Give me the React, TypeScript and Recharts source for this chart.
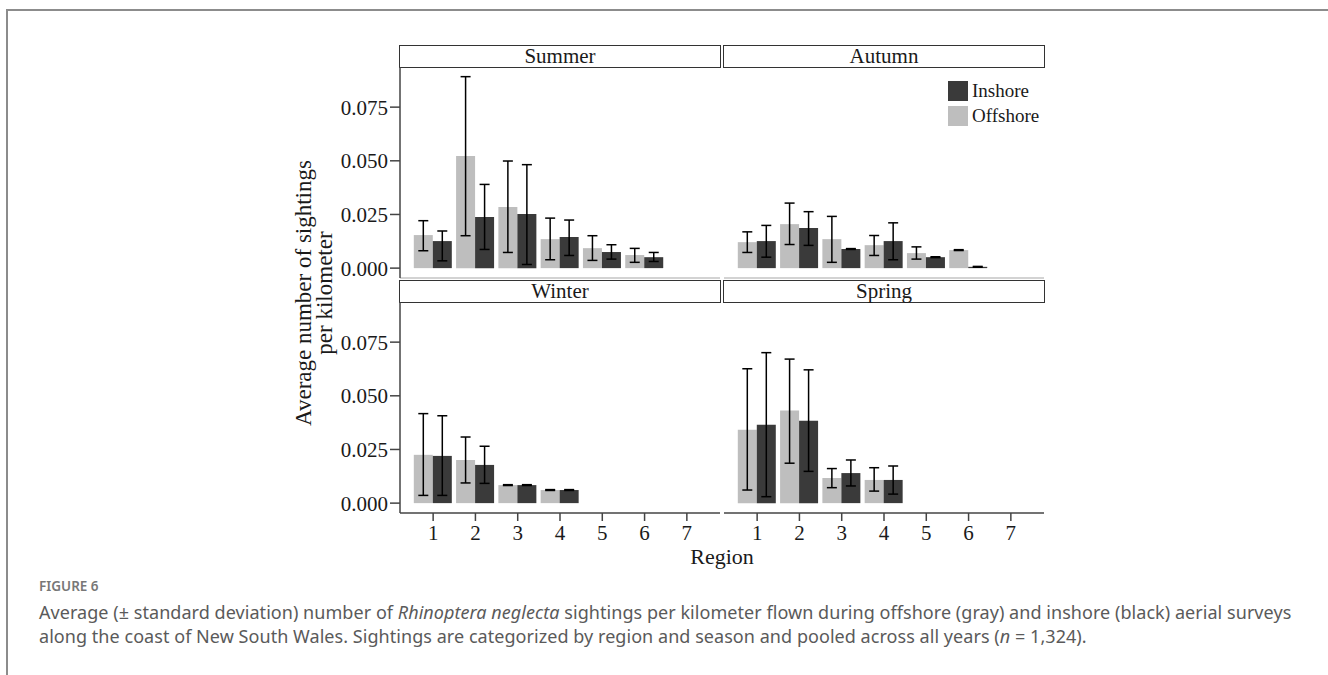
import { BarChart, Bar, XAxis, YAxis, ErrorBar } from 'recharts';

const regions = ['1', '2', '3', '4', '5', '6', '7'];
const yTicks = [0, 0.025, 0.05, 0.075];

// mean, lower and upper end of the error bar (mean ± sd), per region
const summerOff = [0.0154, 0.0522, 0.0285, 0.0135, 0.0093, 0.0061, null];
const summerOffLo = [0.0081, 0.0151, 0.0073, 0.0039, 0.0036, 0.0027, null];
const summerOffHi = [0.0221, 0.0892, 0.0499, 0.0233, 0.0151, 0.0092, null];
const summerIn = [0.0126, 0.0238, 0.0252, 0.0145, 0.0075, 0.0051, null];
const summerInLo = [0.0034, 0.0087, 0.0017, 0.0059, 0.0042, 0.0031, null];
const summerInHi = [0.0173, 0.039, 0.0482, 0.0224, 0.0109, 0.0073, null];

const autumnOff = [0.0121, 0.0205, 0.0135, 0.0107, 0.007, 0.0084, null];
const autumnOffLo = [0.0073, 0.011, 0.0027, 0.0059, 0.0042, 0.0082, null];
const autumnOffHi = [0.0169, 0.0303, 0.0241, 0.0152, 0.0099, 0.0086, null];
const autumnIn = [0.0126, 0.0187, 0.0089, 0.0126, 0.0051, 0.0006, null];
const autumnInLo = [0.0051, 0.0106, 0.0087, 0.0039, 0.0049, 0.0004, null];
const autumnInHi = [0.0199, 0.0263, 0.0091, 0.0211, 0.0053, 0.0008, null];

const winterOff = [0.0225, 0.0201, 0.0084, 0.0061, null, null, null];
const winterOffLo = [0.0036, 0.0094, 0.0082, 0.0059, null, null, null];
const winterOffHi = [0.0417, 0.0308, 0.0086, 0.0063, null, null, null];
const winterIn = [0.022, 0.0178, 0.0084, 0.0061, null, null, null];
const winterInLo = [0.0036, 0.0092, 0.0082, 0.0059, null, null, null];
const winterInHi = [0.0407, 0.0265, 0.0086, 0.0063, null, null, null];

const springOff = [0.0342, 0.0431, 0.0117, 0.0108, null, null, null];
const springOffLo = [0.0061, 0.0186, 0.0072, 0.0056, null, null, null];
const springOffHi = [0.0626, 0.0671, 0.0161, 0.0165, null, null, null];
const springIn = [0.0365, 0.0384, 0.014, 0.0108, null, null, null];
const springInLo = [0.003, 0.0148, 0.008, 0.0042, null, null, null];
const springInHi = [0.0701, 0.0621, 0.0201, 0.0173, null, null, null];

type Num = number | null;

function buildRows(off: Num[], offLo: Num[], offHi: Num[], inn: Num[], inLo: Num[], inHi: Num[]) {
  return regions.map((region, i) => {
    const o = off[i];
    const n = inn[i];
    return {
      region,
      offshore: o,
      inshore: n,
      offErr: o == null ? undefined : [o - (offLo[i] as number), (offHi[i] as number) - o],
      inErr: n == null ? undefined : [n - (inLo[i] as number), (inHi[i] as number) - n],
    };
  });
}

const OFF = '#bebebe';
const IN = '#3a3a3a';
const SERIF = '"Liberation Serif", "DejaVu Serif", serif';
const SANS = '"Noto Sans", sans-serif';
const tickStyle = { fontFamily: SERIF, fontSize: 21, fill: '#1a1a1a' };

function Panel({ rows, left, top, showY, showX }: { rows: any[]; left: number; top: number; showY: boolean; showX: boolean }) {
  const yw = showY ? 60 : 0;
  const plotH = 211;
  const xh = showX ? 40 : 2;
  return (
    <div style={{ position: 'absolute', left: left - yw, top }}>
      <BarChart
        width={320 + yw}
        height={plotH + xh}
        data={rows}
        margin={{ top: 0, right: 0, bottom: 0, left: 0 }}
        barGap={0}
        barCategoryGap={1.8}
      >
        <XAxis
          dataKey="region"
          height={xh}
          padding={{ left: 12, right: 12 }}
          interval={0}
          axisLine={{ stroke: showX ? '#444' : '#c4c4c4', strokeWidth: 1.5 }}
          tick={showX ? tickStyle : false}
          tickLine={showX ? { stroke: '#444', strokeWidth: 1.5 } : false}
          tickSize={8}
          tickMargin={4}
        />
        <YAxis
          hide={!showY}
          width={yw}
          type="number"
          domain={[-0.0046, 0.0937]}
          allowDataOverflow
          ticks={yTicks}
          interval={0}
          tickFormatter={(v: number) => v.toFixed(3)}
          tick={tickStyle}
          axisLine={{ stroke: '#444', strokeWidth: 1.5 }}
          tickLine={{ stroke: '#444', strokeWidth: 1.5 }}
          tickSize={10}
          tickMargin={2}
        />
        <Bar dataKey="offshore" fill={OFF} isAnimationActive={false}>
          <ErrorBar dataKey="offErr" width={5} stroke="#000" strokeWidth={1.5} />
        </Bar>
        <Bar dataKey="inshore" fill={IN} isAnimationActive={false}>
          <ErrorBar dataKey="inErr" width={5} stroke="#000" strokeWidth={1.5} />
        </Bar>
      </BarChart>
    </div>
  );
}

function Strip({ label, left, top }: { label: string; left: number; top: number }) {
  return (
    <div
      style={{
        position: 'absolute',
        left,
        top,
        width: 322,
        height: 23,
        boxSizing: 'border-box',
        border: '1.5px solid #333',
        background: '#fff',
        fontFamily: SERIF,
        fontSize: 21,
        lineHeight: '20px',
        textAlign: 'center',
        color: '#1a1a1a',
      }}
    >
      {label}
    </div>
  );
}

export default function App() {
  const summer = buildRows(summerOff, summerOffLo, summerOffHi, summerIn, summerInLo, summerInHi);
  const autumn = buildRows(autumnOff, autumnOffLo, autumnOffHi, autumnIn, autumnInLo, autumnInHi);
  const winter = buildRows(winterOff, winterOffLo, winterOffHi, winterIn, winterInLo, winterInHi);
  const spring = buildRows(springOff, springOffLo, springOffHi, springIn, springInLo, springInHi);

  return (
    <div style={{ position: 'absolute', left: 0, top: 0, width: 1328, height: 675, background: '#fff', overflow: 'hidden' }}>
      {/* figure frame */}
      <div style={{ position: 'absolute', left: 6, top: 9, width: 1330, height: 664, borderTop: '2px solid #8c8c8c', borderLeft: '2px solid #8c8c8c' }} />

      <Strip label="Summer" left={399} top={45} />
      <Strip label="Autumn" left={723} top={45} />
      <Strip label="Winter" left={399} top={280} />
      <Strip label="Spring" left={723} top={280} />

      <Panel rows={summer} left={400} top={67} showY showX={false} />
      <Panel rows={autumn} left={724} top={67} showY={false} showX={false} />
      <Panel rows={winter} left={400} top={302} showY showX />
      <Panel rows={spring} left={724} top={302} showY={false} showX />

      {/* y axis title */}
      <div
        style={{
          position: 'absolute',
          left: 314,
          top: 293,
          transform: 'translate(-50%, -50%) rotate(-90deg)',
          fontFamily: SERIF,
          fontSize: 23,
          lineHeight: '21px',
          textAlign: 'center',
          whiteSpace: 'nowrap',
          color: '#1a1a1a',
        }}
      >
        Average number of sightings
        <br />
        per kilometer
      </div>

      {/* x axis title */}
      <div
        style={{
          position: 'absolute',
          left: 722,
          top: 557,
          transform: 'translate(-50%, -50%)',
          fontFamily: SERIF,
          fontSize: 22,
          color: '#1a1a1a',
        }}
      >
        Region
      </div>

      {/* legend */}
      <div style={{ position: 'absolute', left: 948, top: 78, fontFamily: SERIF, fontSize: 19, color: '#1a1a1a' }}>
        {[
          { name: 'Inshore', color: IN },
          { name: 'Offshore', color: OFF },
        ].map((s) => (
          <div key={s.name} style={{ display: 'flex', alignItems: 'center', height: 25 }}>
            <div style={{ width: 20, height: 20, background: s.color, marginRight: 4 }} />
            <span>{s.name}</span>
          </div>
        ))}
      </div>

      {/* caption */}
      <div
        style={{
          position: 'absolute',
          left: 39,
          top: 577,
          fontFamily: SANS,
          fontSize: 13.5,
          fontWeight: 600,
          lineHeight: '19px',
          color: '#777',
        }}
      >
        FIGURE 6
      </div>
      <div
        style={{
          position: 'absolute',
          left: 39,
          top: 600,
          fontFamily: SANS,
          fontSize: 18,
          lineHeight: '24px',
          color: '#5a5a5a',
          whiteSpace: 'nowrap',
          letterSpacing: 0.05,
        }}
      >
        Average (± standard deviation) number of <i>Rhinoptera neglecta</i> sightings per kilometer flown during offshore (gray) and inshore (black) aerial surveys
        <br />
        along the coast of New South Wales. Sightings are categorized by region and season and pooled across all years (<i>n</i> = 1,324).
      </div>
    </div>
  );
}
